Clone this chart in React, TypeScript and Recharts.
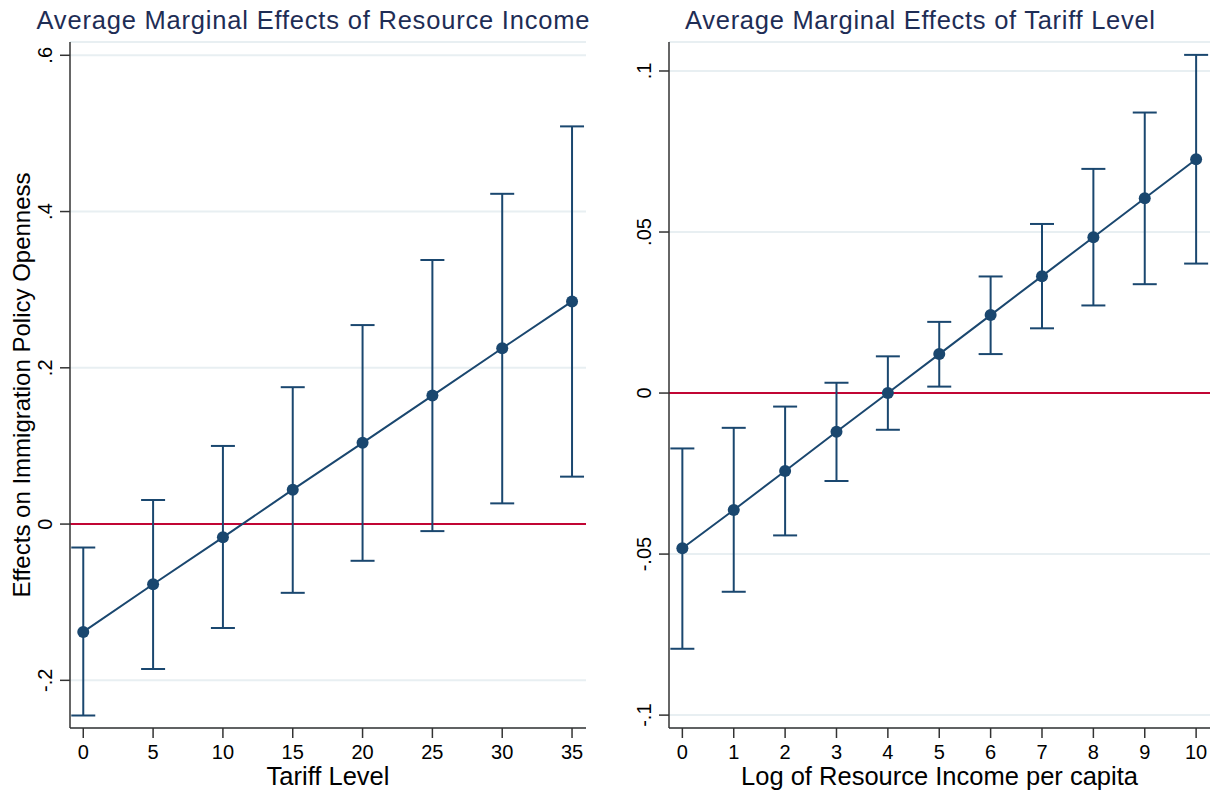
import { LineChart, Line, XAxis, YAxis, CartesianGrid, ReferenceLine, ErrorBar } from "recharts";

// left panel: AME of resource income over tariff level
const tariffLevels = [0, 5, 10, 15, 20, 25, 30, 35];
const resEffect = [-0.138, -0.077, -0.017, 0.044, 0.104, 0.1645, 0.225, 0.285];
const resLower = [-0.245, -0.1855, -0.133, -0.088, -0.047, -0.009, 0.0265, 0.0607];
const resUpper = [-0.03, 0.0308, 0.1, 0.1752, 0.2547, 0.338, 0.4227, 0.509];
const leftXTicks = [0, 5, 10, 15, 20, 25, 30, 35];
const leftYTicks = [-0.2, 0, 0.2, 0.4, 0.6];
const leftYLabels = ["-.2", "0", ".2", ".4", ".6"];

// right panel: AME of tariff level over log resource income
const logResource = [0, 1, 2, 3, 4, 5, 6, 7, 8, 9, 10];
const tarEffect = [-0.0482, -0.0363, -0.0242, -0.012, 0, 0.0121, 0.0242, 0.0363, 0.0484, 0.0605, 0.0726];
const tarLower = [-0.0794, -0.0617, -0.0442, -0.0273, -0.0114, 0.002, 0.0121, 0.0201, 0.0272, 0.0338, 0.0402];
const tarUpper = [-0.0172, -0.0108, -0.0042, 0.0032, 0.0114, 0.0221, 0.0362, 0.0525, 0.0696, 0.0871, 0.105];
const rightXTicks = [0, 1, 2, 3, 4, 5, 6, 7, 8, 9, 10];
const rightYTicks = [-0.1, -0.05, 0, 0.05, 0.1];
const rightYLabels = ["-.1", "-.05", "0", ".05", ".1"];

const NAVY = "#1a476f";
const CRANBERRY = "#c10534";
const GRID = "#e8eff2";
const AXIS = "#333";
const FONT = "'Liberation Sans', Arial, Helvetica, sans-serif";

const toRows = (xs: number[], ys: number[], lo: number[], hi: number[]) =>
  xs.map((x, i) => ({ x, y: ys[i], err: [ys[i] - lo[i], hi[i] - ys[i]] }));

const leftData = toRows(tariffLevels, resEffect, resLower, resUpper);
const rightData = toRows(logResource, tarEffect, tarLower, tarUpper);

function YTick(props: any) {
  const { x, y, payload, ticks, labels } = props;
  const i = ticks.findIndex((t: number) => Math.abs(t - payload.value) < 1e-9);
  return (
    <text
      x={x}
      y={y}
      transform={`rotate(-90 ${x} ${y})`}
      textAnchor="middle"
      fontSize={20}
      fill="#000"
      fontFamily={FONT}
    >
      {i >= 0 ? labels[i] : payload.value}
    </text>
  );
}

function Panel(props: {
  data: any[];
  width: number;
  yAxisWidth: number;
  right: number;
  xDomain: [number, number];
  yDomain: [number, number];
  xTicks: number[];
  yTicks: number[];
  yLabels: string[];
  xLabel: string;
  yLabel?: string;
}) {
  const p = props;
  return (
    <LineChart
      width={p.width}
      height={796}
      data={p.data}
      margin={{ top: 42, right: p.right, left: 0, bottom: 0 }}
      style={{ fontFamily: FONT }}
    >
      <CartesianGrid vertical={false} stroke={GRID} strokeWidth={2} />
      <XAxis
        type="number"
        dataKey="x"
        domain={p.xDomain}
        ticks={p.xTicks}
        allowDataOverflow
        height={68}
        tickSize={10}
        tickMargin={7}
        stroke={AXIS}
        strokeWidth={1.5}
        tick={{ fill: "#000", fontSize: 20 }}
        label={{ value: p.xLabel, position: "insideBottom", offset: 11, fill: "#000", fontSize: 25.5 }}
      />
      <YAxis
        type="number"
        domain={p.yDomain}
        ticks={p.yTicks}
        allowDataOverflow
        width={p.yAxisWidth}
        tickSize={10}
        tickMargin={8}
        stroke={AXIS}
        strokeWidth={1.5}
        tick={(tp: any) => <YTick {...tp} ticks={p.yTicks} labels={p.yLabels} />}
        label={
          p.yLabel
            ? {
                value: p.yLabel,
                angle: -90,
                position: "insideLeft",
                offset: 21,
                fill: "#000",
                fontSize: 24,
                style: { textAnchor: "middle" },
              }
            : undefined
        }
      />
      <ReferenceLine y={0} stroke={CRANBERRY} strokeWidth={2} />
      <Line
        type="linear"
        dataKey="y"
        stroke={NAVY}
        strokeWidth={2}
        dot={{ r: 6, fill: NAVY, stroke: NAVY, strokeWidth: 0 }}
        activeDot={false}
        isAnimationActive={false}
      >
        <ErrorBar dataKey="err" direction="y" width={12} stroke={NAVY} strokeWidth={2} isAnimationActive={false} />
      </Line>
    </LineChart>
  );
}

export default function App() {
  return (
    <div
      style={{
        position: "absolute",
        left: 0,
        top: 0,
        width: 1221,
        height: 796,
        background: "#fff",
        fontFamily: FONT,
      }}
    >
      <div style={{ position: "absolute", left: 0, top: 0 }}>
        <Panel
          data={leftData}
          width={600}
          yAxisWidth={70}
          right={14}
          xDomain={[-0.95, 36]}
          yDomain={[-0.261, 0.617]}
          xTicks={leftXTicks}
          yTicks={leftYTicks}
          yLabels={leftYLabels}
          xLabel="Tariff Level"
          yLabel="Effects on Immigration Policy Openness"
        />
      </div>
      <div style={{ position: "absolute", left: 600, top: 0 }}>
        <Panel
          data={rightData}
          width={621}
          yAxisWidth={69}
          right={11}
          xDomain={[-0.26, 10.27]}
          yDomain={[-0.104, 0.109]}
          xTicks={rightXTicks}
          yTicks={rightYTicks}
          yLabels={rightYLabels}
          xLabel="Log of Resource Income per capita"
        />
      </div>
      <svg
        width={1221}
        height={796}
        style={{ position: "absolute", left: 0, top: 0, pointerEvents: "none" }}
      >
        <text
          x={313}
          y={28.5}
          textAnchor="middle"
          fontSize={25.5}
          fill="#1e2d55"
          fontFamily={FONT}
          textLength={553}
          lengthAdjust="spacing"
        >
          Average Marginal Effects of Resource Income
        </text>
        <text
          x={920}
          y={28.5}
          textAnchor="middle"
          fontSize={25.5}
          fill="#1e2d55"
          fontFamily={FONT}
          textLength={470}
          lengthAdjust="spacing"
        >
          Average Marginal Effects of Tariff Level
        </text>
      </svg>
    </div>
  );
}
